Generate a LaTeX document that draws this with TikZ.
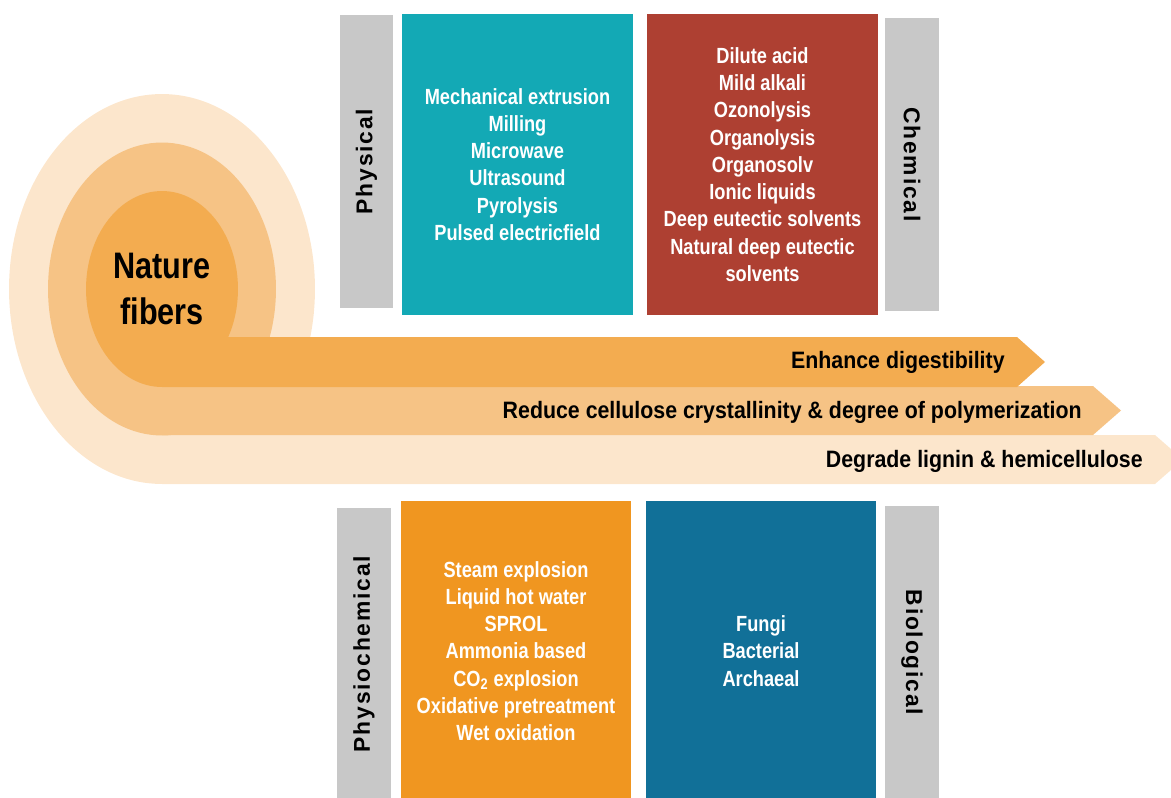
\documentclass[tikz,border=0pt]{standalone}
\usepackage{fontspec}
\setmainfont{Liberation Sans}
\newfontfamily\narrowfont{Liberation Sans}[FakeStretch=0.83]
\newfontfamily\arrowfont{Liberation Sans}[FakeStretch=0.9]
\newfontfamily\sidefont{Liberation Sans}[LetterSpace=8]
\usepackage{tikz}
\usetikzlibrary{shapes,calc}
\definecolor{darkband}{RGB}{243,172,80}
\definecolor{midband}{RGB}{246,195,133}
\definecolor{lightband}{RGB}{252,230,204}
\definecolor{tealbox}{RGB}{19,169,181}
\definecolor{redbox}{RGB}{174,64,50}
\definecolor{orangebox}{RGB}{240,150,32}
\definecolor{bluebox}{RGB}{17,112,152}
\definecolor{greybox}{RGB}{200,200,200}
\tikzstyle{methodbox}=[rectangle,minimum width=4.62cm,minimum height=6.02cm,inner sep=0pt,align=center,text=white,font=\narrowfont\bfseries\fontsize{12.5}{15.5}\selectfont]
\tikzstyle{sidebox}=[rectangle,fill=greybox,minimum width=5.86cm,minimum height=1.07cm,inner sep=0pt,font=\sidefont\bfseries\fontsize{13}{15}\selectfont]
\tikzstyle{bandlabel}=[anchor=east,inner sep=0pt,font=\arrowfont\bfseries\fontsize{13.5}{16}\selectfont]
\tikzstyle{corelabel}=[align=center,inner sep=0pt,font=\narrowfont\bfseries\fontsize{21}{26.5}\selectfont]

\begin{document}
\begin{tikzpicture}[x=0.02cm, y=-0.02cm]
    \useasboundingbox (0,0) rectangle (1171,798);

    % rolled bands, outermost first
    \foreach \col/\rx/\ry/\top/\bot/\tip in {lightband/3.06/3.9/435/484/1155, midband/2.28/2.93/386/435/1093, darkband/1.52/1.96/337/387/1017}
    {
        \fill[\col] (162,289) ellipse [x radius=\rx cm, y radius=\ry cm];
        \fill[\col] (162,\top) -- (\tip,\top) -- ({\tip+28},{(\top+\bot)/2}) -- (\tip,\bot) -- (162,\bot) -- cycle;
    }

    \node[corelabel] (core) at (162,289) {Nature\\fibers};

    % band labels
    \foreach \pos/ \name/ \txt in {{(1005,362)/digest/{Enhance digestibility}}, {(1082,412)/crystal/{Reduce cellulose crystallinity \& degree of polymerization}}, {(1143,461)/lignin/{Degrade lignin \& hemicellulose}}}
        \node[bandlabel] (\name) at \pos {\txt};

    % pretreatment groups
    \foreach \pos/ \name/ \col/ \txt in {{(517.5,164.5)/physbox/tealbox/{Mechanical extrusion\\Milling\\Microwave\\Ultrasound\\Pyrolysis\\Pulsed electricfield}},
        {(762.5,164.5)/chembox/redbox/{Dilute acid\\Mild alkali\\Ozonolysis\\Organolysis\\Organosolv\\Ionic liquids\\Deep eutectic solvents\\Natural deep eutectic\\solvents}},
        {(516,651)/physchembox/orangebox/{Steam explosion\\Liquid hot water\\SPROL\\Ammonia based\\CO\textsubscript{2} explosion\\Oxidative pretreatment\\Wet oxidation}},
        {(761,651)/biobox/bluebox/{Fungi\\Bacterial\\Archaeal}}}
        \node[methodbox,fill=\col] (\name) at \pos {\txt};

    % side tags
    \foreach \pos/ \name/ \ang/ \txt in {{(366.5,161.5)/phystag/90/Physical}, {(912,164.5)/chemtag/-90/Chemical}, {(364,654)/physchemtag/90/Physiochemical}, {(912,652.5)/biotag/-90/Biological}}
        \node[sidebox,rotate=\ang] (\name) at \pos {\txt};

\end{tikzpicture}
\end{document}
